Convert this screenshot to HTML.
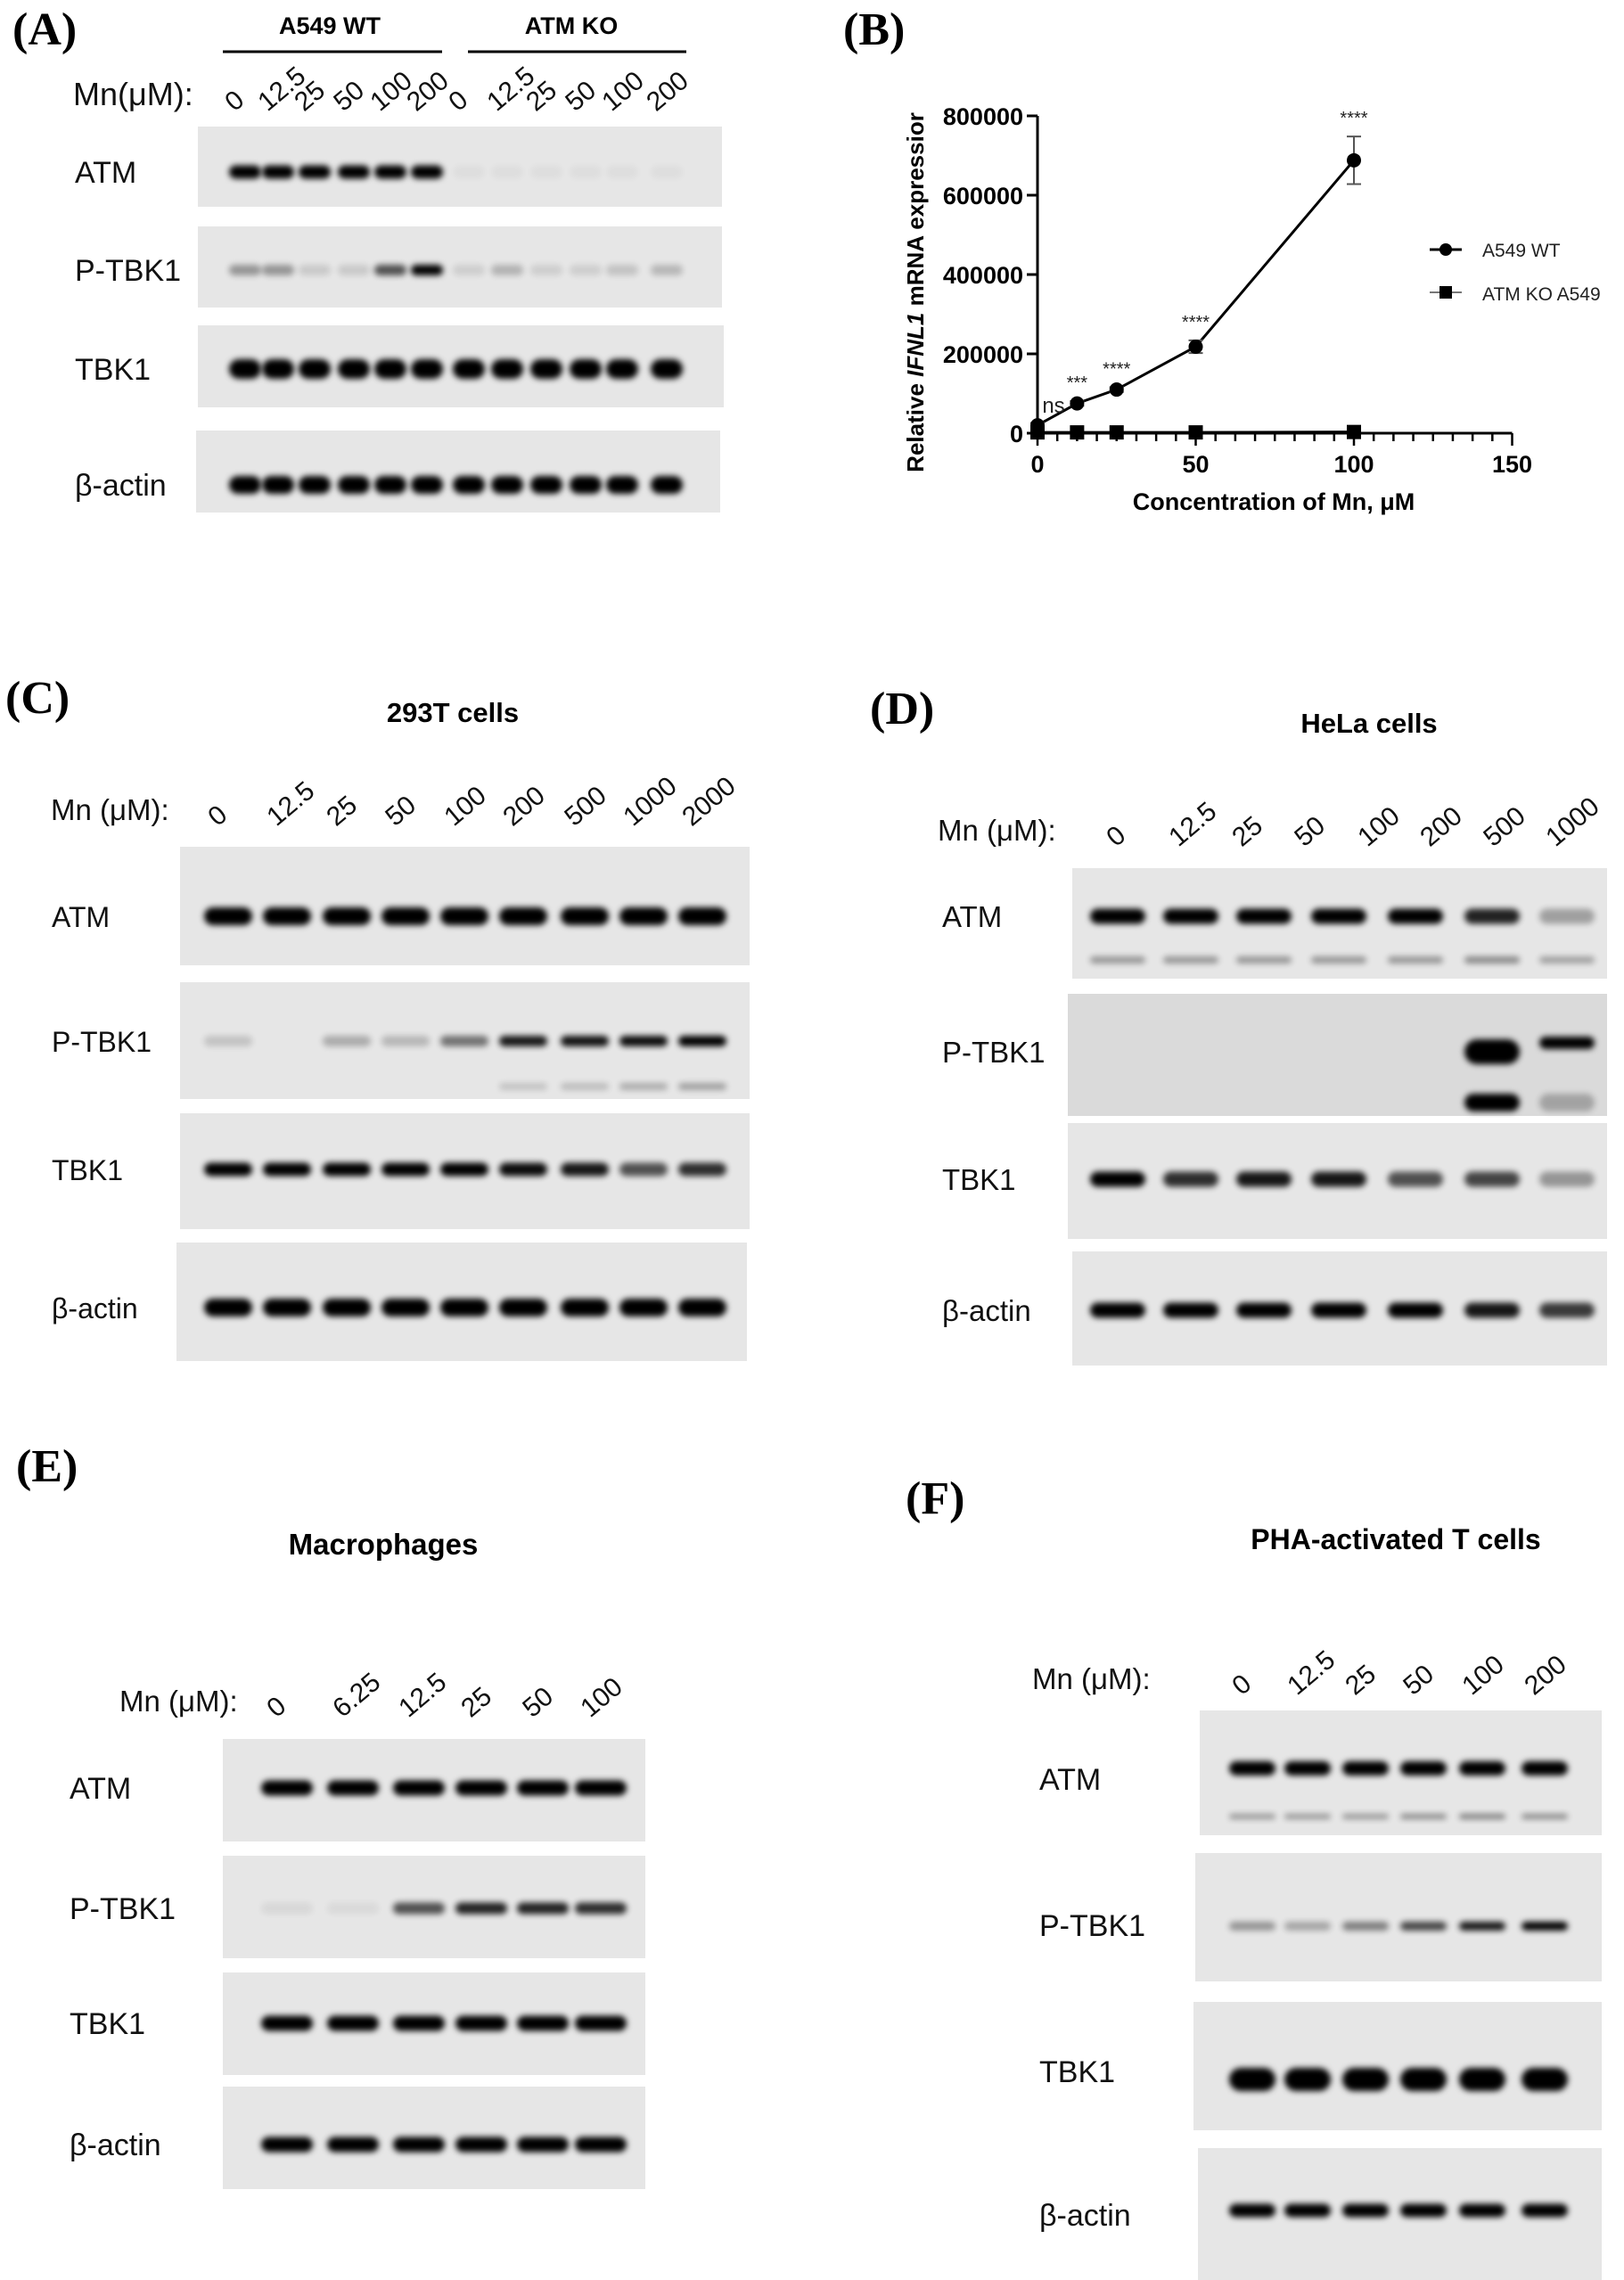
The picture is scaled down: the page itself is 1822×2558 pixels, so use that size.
<!DOCTYPE html>
<html><head><meta charset="utf-8"><style>
body{margin:0;background:#fff;}
svg{display:block;font-family:"Liberation Sans",sans-serif;}
</style></head><body>
<svg id="fig" width="1822" height="2558" viewBox="0 0 1822 2558" xmlns="http://www.w3.org/2000/svg">
<defs>
<filter id="blur" x="-20%" y="-100%" width="140%" height="300%"><feGaussianBlur stdDeviation="3.5"/></filter>
</defs>
<g id="static" font-family="Liberation Sans, sans-serif">
<text x="14" y="50" font-family="Liberation Serif, serif" font-weight="bold" font-size="52">(A)</text>
<text x="946" y="50" font-family="Liberation Serif, serif" font-weight="bold" font-size="52">(B)</text>
<text x="6" y="800" font-family="Liberation Serif, serif" font-weight="bold" font-size="52">(C)</text>
<text x="976" y="812" font-family="Liberation Serif, serif" font-weight="bold" font-size="52">(D)</text>
<text x="18" y="1662" font-family="Liberation Serif, serif" font-weight="bold" font-size="52">(E)</text>
<text x="1016" y="1698" font-family="Liberation Serif, serif" font-weight="bold" font-size="52">(F)</text>
<text x="370" y="38" text-anchor="middle" font-weight="bold" font-size="27">A549 WT</text>
<line x1="250" y1="58" x2="496" y2="58" stroke="#000" stroke-width="3"/>
<text x="641" y="38" text-anchor="middle" font-weight="bold" font-size="27">ATM KO</text>
<line x1="525" y1="58" x2="770" y2="58" stroke="#000" stroke-width="3"/>
<text x="508" y="810" text-anchor="middle" font-weight="bold" font-size="31">293T cells</text>
<text x="1536" y="822" text-anchor="middle" font-weight="bold" font-size="31">HeLa cells</text>
<text x="430" y="1744" text-anchor="middle" font-weight="bold" font-size="33">Macrophages</text>
<text x="1566" y="1738" text-anchor="middle" font-weight="bold" font-size="32">PHA-activated T cells</text>
</g>
<g id="blots"></g>
<g id="chartB"></g>
</svg>
<script>
// ---- Chart B data ----
const concX = [0, 12.5, 25, 50, 100];
const wtValues = [20000, 75000, 110000, 218000, 688000];
const wtErrors = [6000, 6000, 6000, 16000, 60000];
const koValues = [2000, 2000, 2000, 2000, 3000];
const sigLabels = ["ns", "***", "****", "****", "****"];
const yTicks = [0, 200000, 400000, 600000, 800000];
const xTicks = [0, 50, 100, 150];

const NS = "http://www.w3.org/2000/svg";
function mk(tag, attrs, parent, text) {
  const e = document.createElementNS(NS, tag);
  for (const k in attrs) e.setAttribute(k, attrs[k]);
  if (text !== undefined) e.textContent = text;
  parent.appendChild(e);
  return e;
}
const gB = document.getElementById('chartB');
const X0 = 1164, XPX = 3.55, Y0 = 486, YPX = 356 / 800000;
const sx = v => X0 + v * XPX;
const sy = v => Y0 - v * YPX;
let e;
e = mk('line', {x1: X0, y1: sy(800000), x2: X0, y2: Y0, stroke: '#000', 'stroke-width': 3}, gB);
 
e = mk('line', {x1: X0, y1: Y0, x2: sx(150), y2: Y0, stroke: '#000', 'stroke-width': 3}, gB);
 
yTicks.forEach(v => {
  mk('line', {x1: X0 - 12, y1: sy(v), x2: X0, y2: sy(v), stroke: '#000', 'stroke-width': 3}, gB);
  e = mk('text', {x: X0 - 16, y: sy(v) + 10, 'text-anchor': 'end', 'font-size': 27, 'font-weight': 'bold'}, gB, String(v));
   
});
for (let v = 0; v <= 150; v += 6.25) {
  const major = xTicks.includes(v);
  mk('line', {x1: sx(v), y1: Y0, x2: sx(v), y2: Y0 + (major ? 14 : 9), stroke: '#000', 'stroke-width': 2.5}, gB);
}
xTicks.forEach(v => {
  e = mk('text', {x: sx(v), y: Y0 + 44, 'text-anchor': 'middle', 'font-size': 27, 'font-weight': 'bold'}, gB, String(v));
   
});
e = mk('text', {x: 1429, y: 572, 'text-anchor': 'middle', 'font-size': 27, 'font-weight': 'bold'}, gB, 'Concentration of Mn, μM');
 
e = mk('text', {x: 0, y: 0, transform: 'translate(1036,328) rotate(-90)', 'text-anchor': 'middle', 'font-size': 26, 'font-weight': 'bold'}, gB);
 
e.innerHTML = 'Relative <tspan font-style="italic">IFNL1</tspan> mRNA expressior';
let d = concX.map((x, i) => (i ? 'L' : 'M') + sx(x) + ',' + sy(wtValues[i])).join(' ');
e = mk('path', {d: d, fill: 'none', stroke: '#000', 'stroke-width': 3}, gB);
 
d = concX.map((x, i) => (i ? 'L' : 'M') + sx(x) + ',' + sy(koValues[i])).join(' ');
e = mk('path', {d: d, fill: 'none', stroke: '#000', 'stroke-width': 3}, gB);
 
concX.forEach((x, i) => {
  const cx = sx(x), cy = sy(wtValues[i]);
  const top = sy(wtValues[i] + wtErrors[i]), bot = sy(wtValues[i] - wtErrors[i]);
  mk('line', {x1: cx, y1: top, x2: cx, y2: bot, stroke: '#555', 'stroke-width': 2}, gB);
  mk('line', {x1: cx - 8, y1: top, x2: cx + 8, y2: top, stroke: '#555', 'stroke-width': 2}, gB);
  mk('line', {x1: cx - 8, y1: bot, x2: cx + 8, y2: bot, stroke: '#555', 'stroke-width': 2}, gB);
  e = mk('circle', {cx: cx, cy: cy, r: 8, fill: '#000'}, gB);
   
  e = mk('rect', {x: sx(x) - 8, y: sy(koValues[i]) - 8, width: 16, height: 16, fill: '#000'}, gB);
   
  const isNs = sigLabels[i] === 'ns';
  e = mk('text', {x: isNs ? cx + 18 : cx, y: isNs ? cy - 14 : top - 14, 'text-anchor': 'middle', 'font-size': isNs ? 24 : 20, fill: '#222'}, gB, sigLabels[i]);
   
});
mk('line', {x1: 1604, y1: 280, x2: 1640, y2: 280, stroke: '#000', 'stroke-width': 3}, gB);
mk('circle', {cx: 1622, cy: 280, r: 7, fill: '#000'}, gB);
e = mk('text', {x: 1663, y: 288, 'font-size': 21, fill: '#222'}, gB, 'A549 WT');
 
mk('line', {x1: 1604, y1: 328, x2: 1640, y2: 328, stroke: '#777', 'stroke-width': 2}, gB);
mk('rect', {x: 1615, y: 321, width: 14, height: 14, fill: '#000'}, gB);
e = mk('text', {x: 1663, y: 337, 'font-size': 21, fill: '#222'}, gB, 'ATM KO A549');
 

// ---- Blots ----
const gBl = document.getElementById('blots');
const panels = [
 {id:'a', mnX:82, mnY:118, mnFont:36, mnText:'Mn(μM):', labFont:34, conc:['0','12.5','25','50','100','200','0','12.5','25','50','100','200'],
  lanes:[275,312,353,397,438,479,526,569,613,657,698,748], laneW:36, labX:84,
  rows:[
   {name:'ATM', x:222,y:142,w:588,h:90, bands:[{y:193,h:15,v:[1,1,1,1,1,1,.03,.03,.03,.03,.03,.03]}]},
   {name:'P-TBK1', x:222,y:254,w:588,h:91, bands:[{y:303,h:12,v:[.35,.35,.12,.12,.65,1,.1,.22,.1,.1,.15,.2]}]},
   {name:'TBK1', x:222,y:365,w:590,h:92, bands:[{y:414,h:22,v:[1,1,1,1,1,1,1,1,1,1,1,1]}]},
   {name:'β-actin', x:220,y:483,w:588,h:92, bands:[{y:544,h:20,v:[1,1,1,1,1,1,1,1,1,1,1,1]}]}
  ]},
 {id:'c', mnX:57, mnY:920, mnFont:33, mnText:'Mn (μM):', labFont:32, conc:['0','12.5','25','50','100','200','500','1000','2000'],
  lanes:[256,322,389,455,521,587,656,722,788], laneW:54, labX:58,
  rows:[
   {name:'ATM', x:202,y:950,w:639,h:133, bands:[{y:1028,h:20,v:[1,1,1,1,1,1,1,1,1]}]},
   {name:'P-TBK1', x:202,y:1102,w:639,h:131, bands:[{y:1168,h:12,v:[.15,0,.25,.2,.5,.9,.92,.95,1]},{y:1219,h:8,v:[0,0,0,0,0,.15,.18,.25,.3]}]},
   {name:'TBK1', x:202,y:1249,w:639,h:130, bands:[{y:1312,h:15,v:[1,1,1,1,1,.95,.9,.65,.8]}]},
   {name:'β-actin', x:198,y:1394,w:640,h:133, bands:[{y:1467,h:20,v:[1,1,1,1,1,1,1,1,1]}]}
  ]},
 {id:'d', mnX:1052, mnY:943, mnFont:33, mnText:'Mn (μM):', labFont:33, conc:['0','12.5','25','50','100','200','500','1000'],
  labelLanes:[1264,1334,1405,1475,1546,1616,1687,1757],
  lanes:[1254,1336,1418,1502,1588,1674,1758], laneW:62, labX:1057,
  rows:[
   {name:'ATM', x:1203,y:974,w:600,h:124, bands:[{y:1028,h:17,v:[1,1,1,1,1,.85,.3]},{y:1077,h:8,v:[.35,.35,.35,.35,.35,.4,.3]}]},
   {name:'P-TBK1', x:1198,y:1115,w:605,h:137, bands:[{y:1180,h:28,v:[0,0,0,0,0,1,0]},{y:1170,h:14,v:[0,0,0,0,0,0,1]},{y:1237,h:20,v:[0,0,0,0,0,1,.25]}], noisy:true},
   {name:'TBK1', x:1198,y:1260,w:605,h:130, bands:[{y:1323,h:17,v:[1,.8,.9,.9,.65,.7,.35]}]},
   {name:'β-actin', x:1203,y:1404,w:600,h:128, bands:[{y:1470,h:17,v:[1,1,1,1,1,.9,.75]}]}
  ]},
 {id:'e', mnX:134, mnY:1920, mnFont:33, mnText:'Mn (μM):', labFont:34, conc:['0','6.25','12.5','25','50','100'],
  lanes:[322,396,470,540,609,674], laneW:58, labX:78,
  rows:[
   {name:'ATM', x:250,y:1951,w:474,h:115, bands:[{y:2006,h:17,v:[1,1,1,1,1,1]}]},
   {name:'P-TBK1', x:250,y:2082,w:474,h:115, bands:[{y:2141,h:13,v:[.06,.05,.65,.85,.85,.8]}]},
   {name:'TBK1', x:250,y:2213,w:474,h:115, bands:[{y:2270,h:17,v:[1,1,1,1,1,1]}]},
   {name:'β-actin', x:250,y:2341,w:474,h:115, bands:[{y:2406,h:17,v:[1,1,1,1,1,1]}]}
  ]},
 {id:'f', mnX:1158, mnY:1895, mnFont:33, mnText:'Mn (μM):', labFont:34, conc:['0','12.5','25','50','100','200'],
  lanes:[1405,1467,1532,1597,1663,1733], laneW:52, labX:1166,
  rows:[
   {name:'ATM', x:1346,y:1919,w:451,h:140, labY:2008, bands:[{y:1984,h:16,v:[1,1,1,1,1,1]},{y:2038,h:6,v:[.35,.35,.35,.4,.45,.4]}]},
   {name:'P-TBK1', x:1341,y:2079,w:456,h:144, labY:2172, bands:[{y:2161,h:10,v:[.35,.28,.45,.7,.9,1]}]},
   {name:'TBK1', x:1339,y:2246,w:458,h:144, labY:2336, bands:[{y:2333,h:26,v:[1,1,1,1,1,1]}]},
   {name:'β-actin', x:1344,y:2410,w:453,h:148, labY:2497, bands:[{y:2480,h:15,v:[1,1,1,1,1,1]}]}
  ]}
];
panels.forEach(p => {
  const g = mk('g', {}, gBl);
  
  
  e = mk('text', {x: p.mnX, y: p.mnY, 'font-size': p.mnFont, fill: '#111'}, g, p.mnText);
   
  const ll = p.labelLanes || p.lanes;
  p.conc.forEach((c, i) => {
    const tx = ll[i] - 12, ty = p.mnY + 8;
    e = mk('text', {x: 0, y: 0, transform: 'translate(' + tx + ',' + ty + ') rotate(-40)', 'font-size': 30, fill: '#111'}, g, c);
     
  });
  p.rows.forEach(r => {
    e = mk('rect', {x: r.x, y: r.y, width: r.w, height: r.h, fill: r.noisy ? '#dadada' : '#e6e6e6'}, g);
     
    const ly = r.labY !== undefined ? r.labY : r.bands[0].y + 12;
    e = mk('text', {x: p.labX, y: ly, 'font-size': p.labFont, fill: '#111'}, g, r.name);
     
    r.bands.forEach(b => {
      b.v.forEach((v, i) => {
        if (v <= 0.01 || p.lanes[i] === undefined) return;
        const cx = p.lanes[i];
        e = mk('rect', {x: cx - p.laneW / 2, y: b.y - b.h / 2, width: p.laneW, height: b.h, rx: b.h / 2, fill: '#000', opacity: Math.min(1, v), filter: 'url(#blur)'}, g);
         
      });
    });
  });
});
</script>
</body></html>
